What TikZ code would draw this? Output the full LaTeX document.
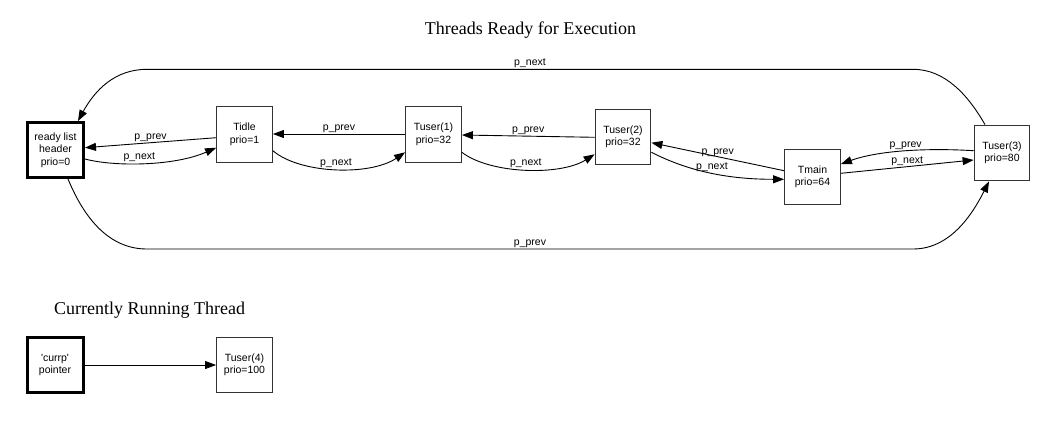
\documentclass[tikz,border=0pt]{standalone}
\usepackage{fontspec}
\setmainfont{Liberation Serif}
\newfontfamily\gvsans{Liberation Sans}
\usetikzlibrary{arrows.meta,calc}
\tikzset{
  box/.style={draw=black!80, line width=1.3pt, minimum width=55.5pt, minimum height=55.5pt,
    inner sep=1pt, align=center, font=\gvsans\fontsize{10.5}{12.5}\selectfont},
  hbox/.style={box, draw=black, line width=3pt, minimum width=56pt, minimum height=55pt},
  conn/.style={line width=0.9pt, -{Triangle[length=11pt,width=8pt]}},
  lbl/.style={font=\gvsans\fontsize{10.5}{12}\selectfont, inner sep=1pt},
  ttl/.style={font=\fontsize{18}{20}\selectfont, inner sep=0pt}
}
\begin{document}
\begin{tikzpicture}[x=1pt,y=-1pt]
\useasboundingbox (0,0) rectangle (1057,421);
\node[ttl] (t1) at (530.5,30) {Threads Ready for Execution};
\node[ttl] (t2) at (149.5,310) {Currently Running Thread};

\node[hbox] (ready) at (55.5,150) {ready list\\header\\prio=0};
\node[box] (Tidle) at (244.5,134.5) {Tidle\\prio=1};
\node[box] (Tu1) at (433.5,134.5) {Tuser(1)\\prio=32};
\node[box] (Tu2) at (623,137) {Tuser(2)\\prio=32};
\node[box] (Tmain) at (812.5,177) {Tmain\\prio=64};
\node[box] (Tu3) at (1002,153) {Tuser(3)\\prio=80};
\node[hbox] (currp) at (55,365) {'currp'\\pointer};
\node[box] (Tu4) at (244.5,365) {Tuser(4)\\prio=100};

% ready <-> Tidle
\draw[conn] ($(Tidle.west)+(0,3.2)$) -- node[lbl,above,pos=0.5]{p\_prev} ($(ready.east)+(0,-2.3)$);
\draw[conn] ($(ready.east)+(0,9)$) .. controls (115,167) and (175,166) .. node[lbl,above,pos=0.45]{p\_next} ($(Tidle.west)+(0,13.2)$);
% Tidle <-> Tu1
\draw[conn] ($(Tu1.west)+(0,-0.5)$) -- node[lbl,above]{p\_prev} ($(Tidle.east)+(0,-0.5)$);
\draw[conn] ($(Tidle.east)+(0,16.2)$) .. controls (300,174) and (370,176) .. node[lbl,above,pos=0.5]{p\_next} ($(Tu1.west)+(0,17.8)$);
% Tu1 <-> Tu2
\draw[conn] ($(Tu2.west)+(0,0.3)$) -- node[lbl,above]{p\_prev} ($(Tu1.east)+(0,0.5)$);
\draw[conn] ($(Tu1.east)+(0,17.8)$) .. controls (490,174) and (560,176) .. node[lbl,above,pos=0.5]{p\_next} ($(Tu2.west)+(0,17.3)$);
% Tu2 <-> Tmain
\draw[conn] ($(Tmain.west)+(0,-6.3)$) -- node[lbl,above,pos=0.5,yshift=-1pt]{p\_prev} ($(Tu2.east)+(0,5.7)$);
\draw[conn] ($(Tu2.east)+(0,15.3)$) .. controls (690,172) and (730,179.3) .. node[lbl,above,pos=0.5]{p\_next} ($(Tmain.west)+(0,2.3)$);
% Tmain <-> Tu3
\draw[conn] ($(Tu3.west)+(0,-2.3)$) .. controls (930,148) and (880,150) .. node[lbl,above,pos=0.5]{p\_prev} ($(Tmain.east)+(0,-13)$);
\draw[conn] ($(Tmain.east)+(0,-3.7)$) -- node[lbl,above,pos=0.5]{p\_next} ($(Tu3.west)+(0,7)$);
% outer arcs
\draw[conn] ($(Tu3.north)+(-17,0)$) .. controls (968,95) and (945,69.3) .. (913,69.3)
  -- node[lbl,above]{p\_next} (147,69.3) .. controls (115,69.3) and (95,90) .. ($(ready.north)+(22.5,0)$);
\draw[conn] ($(ready.south)+(12.5,0)$) .. controls (85,220) and (110,249) .. (147,249)
  -- node[lbl,above]{p\_prev} (913,249) .. controls (950,249) and (972,215) .. ($(Tu3.south)+(-13,0)$);
% current
\draw[conn] (currp) -- (Tu4);
\end{tikzpicture}
\end{document}
